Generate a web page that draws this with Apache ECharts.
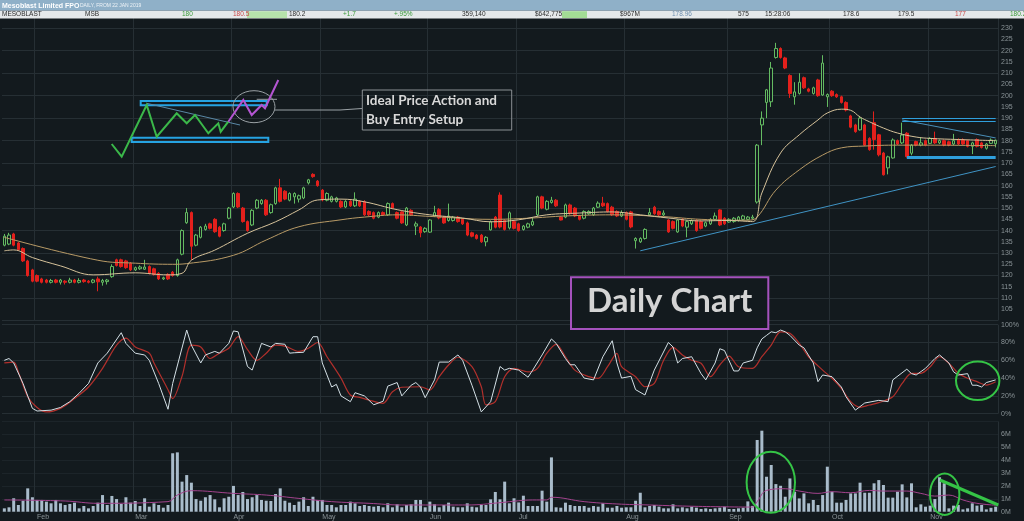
<!DOCTYPE html>
<html><head><meta charset="utf-8">
<script src="https://cdn.jsdelivr.net/npm/echarts@6/dist/echarts.min.js"></script>
<style>html,body{margin:0;padding:0;background:#131a1e;}#c{width:1024px;height:521px;}</style>
</head><body><div id="c"></div>
<script>
// ---------- data ----------
const N = 213;
const monthStartIdx = [7,28,49,68,91,110,133,155,177,198];
const monthNames = ['Feb','Mar','Apr','May','Jun','Jul','Aug','Sep','Oct','Nov'];

const openP = [
133.5,134,138.5,134.5,132,126.5,122.5,120,118.5,118,
117,118,117,117.5,117,118,117,118,117.5,117,
118.5,117,117.3,119.5,127,127,126.5,125.5,122.5,123,
122.8,124,123,121,118.5,120.5,121.5,120,129.5,143.5,
148,133.5,137,140.5,143,145,141.5,140,145.5,150.5,
156.5,150,144,142.5,150,152,153.5,148,152,159,
157.5,153.5,155,154,154.5,161.2,165,162,158,153.5,
153,153,153,150.5,153,151,153,152.8,148.5,148,
146,148,147,152,148,148.3,142.5,149,142,141.6,
139.5,139.3,146.5,149.3,146,144.5,144.5,146,145,143.4,
139,138,138,135,140.3,146,155.8,144.5,141.2,144,
143,140.5,141.5,142.5,147,155,149.5,152.5,153.5,146,
146,151.4,150,146.5,145.5,147.5,147,150.4,152.2,152,
150.4,148.5,146.5,148,148.3,135.5,135,136.5,147,150.4,
148.5,147,144.7,144,139.4,145,141.5,143,144.5,144,
142,143,145,149.2,145.5,143.8,144,144.5,145,145,
145.5,152.7,187,197,197.3,217,221,216.8,209,199.5,
201,208,203,201,207,200.3,199.5,202,200.5,199.5,
197,191,187,184.8,187,181,188,182.6,174.5,167.9,
172.3,180,179,183.3,174.4,179.6,178,180,178.8,181,
179,180,179.5,178.5,180.5,180.5,180,177.5,180.5,179,
176.6,178.8,178.6];
const closeP = [
137.5,138,133.5,131.5,126.5,120,117.5,117.5,117,117,
117.8,117,118,117,118,117,117.8,117.3,117,118,
117.2,117.8,118,124,124.5,124,123.5,122.5,123.5,123.8,
123.8,121,120.5,118.5,119,118.5,120,127,140,148,
133,138,141.5,142,141,139.5,137.5,143,150,156.5,
150.5,144,140,149,153.5,153.5,147,151.5,159,153,
154,156.5,156.5,155.5,159,162.6,164,160,153.6,156.5,
155,154.5,150.5,153,151,154,151,147,147,145.5,
148,147,152,150,145.5,143.4,150,147,143,139,
141,144.7,148,145.6,143.4,146.5,146,144,143,138,
137.5,136.5,135,137,143.9,141.5,141.6,140.5,147.9,141,
140,142,143,144,155,150,153,153.5,151,144.7,
151.4,147.5,146.5,145,148.5,148.5,150,152.2,151,148.5,
147,146.5,148,145,141.6,136.5,136.5,140.5,148,147.5,
147,147.8,139.4,141,144.7,142,144,144.5,140,141,
143.5,145,146.5,142.5,143,145,145.5,146,146.5,146,
146,178,190,202.6,212.3,221,217,212.3,201,201.7,
206,203.5,202,203.5,200,214.5,200.5,200,199.5,197,
193.6,186,184,190,178,176,180.5,173.7,164.8,172.8,
180.3,178.5,182.5,172.9,178,178,179,178,181,179,
180,178,178,180,178.5,178.5,177.5,179,177.5,177,
178.5,180.3,180.2];
const lowP = [
133,133.5,133,131,126,119.5,117,117,116.5,116.5,
116.5,116.5,116,116,116.5,116.5,116.5,116.8,116.5,116.5,
113,115.5,116,119,124,123.5,123,122,122,122.5,
122.5,120.5,120,118,118,118,119.5,119.5,129,143,
127,133,136.5,140,140.5,139,137,139.5,145,150,
150,143.5,139.5,142,149.5,151.5,146.5,147.5,151.5,152.5,
153.5,153,152,152.5,154,160.5,163.5,159.5,153,153,
152.5,152.5,150,150,150.5,150.5,150.5,146.5,146.5,145,
145.5,146.5,146.5,149.5,145,143,142,146.5,138,137,
139,139,146,145,143,144,144,143.5,142.5,137.5,
137,136,134.5,133,140,141,141,140,140.5,140.5,
139.5,140,141,142,146.5,149.5,149,152,150.5,144.5,
145.5,147,146,144.5,145,147,146.5,150,150.5,148,
146.5,146,146,144.5,141,132,134.5,136,146.5,147,
146.5,146.5,139,140.5,139,141.5,137,142.5,139.5,140.5,
141.5,142.5,144.5,142,142.5,143.5,143.5,144,144.5,144.5,
145,152,178,190,195,216.5,216.5,211.8,199,196,
200.5,203,201.5,200.5,199.5,200,195,199.5,199,196.5,
193,185.5,183.5,184.5,177.5,175.5,176,173,164.5,165,
172,178,178.5,172.5,173.5,177.5,177.5,177.5,178.5,178.5,
178.5,177.5,177.5,178,178,178,177,174,177,176.5,
176,178.5,177];
const highP = [
138.5,139,139,135,132.5,127,123,120.5,119,118.5,
118.5,118.5,118.5,118,119,118.5,118.8,118.5,118,118.5,
119.5,118.5,118.5,125,127.5,127.5,127,126,124,124.5,
127,124.5,123.5,121.5,119.5,121,122,127.5,140.5,150,
148.5,138.5,142,143,143.5,145.5,142,143.5,150.5,157,
157,150.5,144.5,149.5,154,154,154,152,159.5,163,
158,157,157,156,159.5,163,165.5,162.5,158.5,157,
155.5,155,153.5,153.5,153.5,157,153.5,153.5,149,148.5,
148.5,148.5,152.5,152.5,148.5,148.8,150.5,149.5,144,142,
141.5,145,151,150,146.5,152,146.5,146.5,145.5,144,
139.5,138.5,138.5,137.5,144.5,146.5,157,145,148.5,144.5,
143.5,142.5,143.5,146,155.5,155.5,153.5,155,154,146.5,
152,152,150.5,147,149,149,150.5,153,155,152.5,
151,149,149,148.5,148.8,137,137,141,150,151,
149,149,145,144.5,145,145.5,144.5,145,145,144.5,
144,145.5,148,149.5,146,145.5,146,146.5,147,146.5,
147,178.5,193,203,215,223.5,221.5,217.3,209.5,206,
210,208.5,203.5,204,207.5,218,201,202.5,201,200,
197.5,191.5,187.5,191,187.5,181.5,193,183,175,173.3,
181,180.5,188,183.8,178.5,180,181.5,180.5,181.5,184,
180.5,180.5,180,183,181,181,180.5,179.5,181,179.5,
179,181,180.5];

const volumeM = [
0.26,0.34,1.04,0.52,0.85,1.81,1.12,0.91,0.91,0.78,
0.65,0.91,0.65,0.52,0.6,0.7,0.26,0.44,0.26,0.44,
0.7,1.29,0.52,1.22,0.98,0.6,1.12,0.7,0.83,0.44,
1.04,0.39,0.65,0.52,0.31,0.52,4.53,4.6,2.33,2.84,
2.25,0.98,0.85,1.12,1.29,0.96,0.34,1.04,1.16,2.0,
1.29,1.53,0.98,1.12,1.29,0.91,0.85,0.83,1.37,1.81,
0.85,0.7,0.52,0.78,1.12,0.44,1.16,0.91,0.91,0.52,
0.52,0.34,0.52,0.52,0.78,0.65,0.44,0.52,0.44,0.39,
0.44,0.34,0.65,0.34,0.57,0.34,0.52,0.57,0.91,0.91,
0.34,0.78,0.57,0.34,0.52,0.7,0.39,0.34,0.34,0.65,
0.39,0.34,0.52,0.52,0.96,1.53,0.96,2.33,0.65,1.04,
0.72,1.24,0.44,0.44,0.44,1.63,0.78,4.21,0.34,0.31,
0.7,0.52,0.44,0.44,0.44,0.31,0.44,0.39,0.65,0.31,
0.31,0.44,0.31,0.34,0.34,0.85,1.47,0.34,0.44,0.52,
0.39,0.26,0.26,0.57,0.26,0.34,0.26,0.39,0.31,0.21,
0.26,0.21,0.26,0.31,0.39,0.21,0.21,0.26,0.31,0.8,
0.45,5.56,6.28,2.71,3.62,2.14,2.01,1.16,2.58,1.55,
1.03,1.42,0.65,0.91,0.52,1.29,3.49,1.55,0.7,0.7,
0.91,1.42,1.42,2.25,1.47,1.47,2.2,2.45,2.07,1.09,
1.09,1.55,2.12,1.11,2.2,0.34,0.57,0.39,0.47,0.98,
2.67,2.2,0.26,0.47,0.52,0.18,0.26,0.65,0.47,0.52,
0.18,0.3,0.39];

// moving averages: [bar index, value]
const maFast = [[0,131],[2,131.4],[6,128],[12,124.3],[19,120.3],[28,121.2],[35,120.3],[38,121],[40,126.8],[45,131.3],[52,138.8],[58,143.9],[63,149.2],[67,153.6],[72,154],[77,152.8],[84,149.3],[91,147],[98,145.6],[104,143.9],[110,144.8],[116,147],[123,147.8],[130,148.3],[136,147],[142,145.6],[149,144.3],[155,144.5],[160,144],[162,156.7],[166,174.5],[170,182.6],[174,189.2],[176,192.3],[179,194],[181,193.5],[183,190.5],[185,188.4],[188,185.6],[191,183.4],[195,181.6],[198,181],[204,180.5],[212,180]];
const maSlow = [[0,137],[20,126.8],[28,125.5],[36,125],[39,125.3],[49,129],[56,135.8],[63,141.7],[72,144.8],[77,146],[84,147],[91,146.3],[104,145],[112,145.5],[120,146.5],[130,147],[141,146.2],[149,145],[159,144.6],[161,146],[165,158],[170,167],[175,173.6],[179,176.8],[184,177.6],[191,178],[198,178],[205,177.9],[212,177.8]];
const volMA = [[0,0.91],[13,0.83],[20,0.65],[35,0.78],[37,1.29],[40,1.63],[49,1.42],[56,1.29],[63,1.03],[70,0.78],[78,0.65],[85,0.52],[92,0.52],[99,0.52],[106,0.7],[110,0.85],[113,0.91],[116,0.91],[117,1.12],[124,0.78],[131,0.6],[138,0.52],[145,0.44],[152,0.39],[160,0.36],[161,0.78],[163,1.65],[167,1.78],[170,1.6],[174,1.42],[177,1.55],[181,1.47],[185,1.65],[188,1.6],[193,1.6],[196,1.42],[199,1.21],[202,1.29],[205,0.91],[208,0.65],[212,0.5]];

// stochastic %K and %D: [bar index, percent]
const stochK = [[0,60],[1,62],[2,57],[4,34],[6,6],[7,3],[10,4],[12,7],[14,13.5],[16,23],[18,34],[20,57],[22,68],[25,91],[26,79],[28,68],[30,66],[31,60],[33,34],[35,5],[36,34],[39,94],[40,77],[42,57],[43,66],[45,70],[46,68],[48,79],[49,93],[50,92],[52,53],[53,49],[55,79],[57,75],[58,79],[60,78],[61,68],[62,68.5],[64,69],[66,86.5],[67,86.5],[68,57],[70,30],[71,33],[72,20],[74,13.5],[75,23.6],[77,20],[79,10],[81,14],[82,31],[84,35],[85,20],[87,32],[88,35],[89,30],[90,18],[92,38],[93,58],[95,58],[97,66],[98,60],[100,32],[102,2],[104,13.5],[106,53],[107,49],[108,51],[110,49],[112,41],[113,49],[115,66],[117,84],[118,79],[120,62],[121,55],[122,55],[124,40],[126,38],[128,64],[130,82],[131,57],[132,40],[134,42],[135,27],[137,21],[139,49],[142,80],[143,75],[144,57],[145,62],[147,64],[149,45],[150,38],[152,57],[153,73],[154,71],[156,48],[157,48],[158,57],[160,60],[161,74],[162,84],[163,88],[164,92],[165,91],[166,94],[167,92],[168,88],[170,77],[171,74],[173,57],[174,36],[175,43.5],[177,41.6],[179,30],[180,19],[182,4],[184,12],[187,15],[189,13.5],[190,38],[193,50],[194,45],[195,43.5],[197,51],[199,62],[200,66],[202,57],[203,47],[204,43.5],[206,45],[207,32],[208,32],[209,30],[210,35],[212,38]];
const stochD = [[0,57],[2,58],[3,47],[5,19],[7,7],[9,2],[12,6],[15,17],[18,30],[21,51],[24,77],[26,85],[28,75],[31,68],[32,57],[35,27],[36,17],[38,42],[40,77],[42,75],[44,62],[46,68],[48,73.5],[50,86.5],[52,72],[54,60],[56,68],[58,77],[60,76],[63,70],[65,73.5],[67,80],[69,64],[72,40],[74,21],[76,18.4],[78,15.4],[81,11.7],[83,24.7],[85,29.7],[89,30.3],[91,26.6],[93,41.6],[95,54.7],[97,63.4],[100,52.8],[102,30.3],[103,10],[105,13.5],[107,41.6],[109,51],[112,47],[114,51],[116,68],[118,78],[120,64],[122,49],[125,41.6],[127,39.8],[129,52.8],[131,67.8],[132,52.8],[135,41.6],[137,30.3],[139,34],[141,60],[143,74.6],[145,66],[147,60],[149,56.6],[151,41.6],[153,54.7],[155,64.8],[157,52.8],[160,51],[162,64],[164,77],[166,92],[168,90.3],[170,79],[172,64],[175,49],[177,39.8],[179,28.5],[181,13.5],[183,7.2],[185,9.8],[187,12.4],[190,19.1],[192,34],[194,45.4],[196,45.4],[198,52.8],[200,64],[202,56.6],[204,45.4],[206,39.8],[208,36],[210,32.2],[212,36]];

// drawn trend lines on the price pane: [bar index, price]
const supportLine = [[136,131],[212,168.5]];
const wedgeTopLine = [[192,189.2],[212,181.2]];
const rangeTopA = [[192,189.8],[212,189.8]];
const rangeTopB = [[192,188.6],[212,188.6]];
const rangeBottom = [[193,172.7],[212,172.7]];

// ---------- chart ----------
const BG = '#131a1e', GRID = '#262f34', LBL = '#8a9397';
const FONT = 'Liberation Sans, Arial, sans-serif';
const cats = Array.from({length: N}, (_, i) => String(i));
const isMonth = (idx) => monthStartIdx.indexOf(idx) >= 0;
const candles = openP.map((o, i) => [o, closeP[i], lowP[i], highP[i]]);

function seg(pair, style) {
  return [{coord: [String(pair[0][0]), pair[0][1]], lineStyle: style}, {coord: [String(pair[1][0]), pair[1][1]]}];
}

const chart = echarts.init(document.getElementById('c'), null, {renderer: 'canvas'});
const grids = [
  {left: 2, right: 26, top: 17, height: 303.5},
  {left: 2, right: 26, top: 324.7, height: 89},
  {left: 2, right: 26, top: 421.4, height: 90.3}
];
const xAxes = [0, 1, 2].map(g => ({
  type: 'category', gridIndex: g, data: cats, boundaryGap: true,
  axisLine: {show: false}, axisTick: {show: false},
  axisLabel: g === 2 ? {show: true, interval: (idx) => isMonth(idx), formatter: (v, idx) => monthNames[monthStartIdx.indexOf(idx)] || '',
    color: LBL, fontSize: 7, margin: 2, align: 'left', fontFamily: FONT} : {show: false},
  splitLine: {show: true, interval: (idx) => isMonth(idx), lineStyle: {color: GRID, width: 1}}
}));
const axLbl = {color: LBL, fontSize: 7, margin: 3, fontFamily: FONT};
const yAxes = [
  {type: 'value', gridIndex: 0, position: 'right', min: 100, max: 235, interval: 5, scale: true,
   axisLine: {show: false}, axisTick: {show: false}, splitLine: {show: false},
   axisLabel: Object.assign({showMinLabel: false, showMaxLabel: false}, axLbl)},
  {type: 'value', gridIndex: 0, position: 'right', min: 100, max: 235, interval: 10,
   axisLine: {show: false}, axisTick: {show: false}, axisLabel: {show: false},
   splitLine: {show: true, lineStyle: {color: GRID}}},
  {type: 'value', gridIndex: 1, position: 'right', min: 0, max: 100, interval: 20,
   axisLine: {show: false}, axisTick: {show: false},
   axisLabel: Object.assign({formatter: '{value}%'}, axLbl),
   splitLine: {show: true, lineStyle: {color: GRID}}},
  {type: 'value', gridIndex: 2, position: 'right', min: 0, max: 7, interval: 1,
   axisLine: {show: false}, axisTick: {show: false},
   axisLabel: Object.assign({formatter: '{value}M', showMaxLabel: false}, axLbl),
   splitLine: {show: true, lineStyle: {color: '#1c2429'}}}
];

const blueThin = {color: '#3f93c4', width: 1, type: 'solid'};
const series = [
  {type: 'candlestick', xAxisIndex: 0, yAxisIndex: 0, data: candles, barWidth: 3,
   itemStyle: {color: BG, color0: '#e3201c', borderColor: '#64bb62', borderColor0: '#e3201c', borderWidth: 1},
   markLine: {symbol: 'none', silent: true, label: {show: false}, animation: false,
     data: [seg(supportLine, blueThin), seg(wedgeTopLine, {color: '#4a8fb8', width: 1, type: 'solid'}),
            seg(rangeTopA, {color: '#2f9fdc', width: 1.2, type: 'solid'}), seg(rangeTopB, {color: '#2f9fdc', width: 1.2, type: 'solid'}),
            seg(rangeBottom, {color: '#2f9fdc', width: 3, type: 'solid'})]}},
  {type: 'line', xAxisIndex: 0, yAxisIndex: 0, data: maSlow, smooth: 0.4, showSymbol: false, lineStyle: {color: '#b89a66', width: 1}},
  {type: 'line', xAxisIndex: 0, yAxisIndex: 0, data: maFast, smooth: 0.4, showSymbol: false, lineStyle: {color: '#d6c29a', width: 1}},
  {type: 'line', xAxisIndex: 1, yAxisIndex: 2, data: stochD, smooth: 0.3, showSymbol: false, lineStyle: {color: '#b2302c', width: 1.2}},
  {type: 'line', xAxisIndex: 1, yAxisIndex: 2, data: stochK, showSymbol: false, lineStyle: {color: '#d4e0e6', width: 1}},
  {type: 'bar', xAxisIndex: 2, yAxisIndex: 3, data: volumeM, barWidth: 3, itemStyle: {color: '#a9bccb'}},
  {type: 'line', xAxisIndex: 2, yAxisIndex: 3, data: volMA, smooth: 0.4, showSymbol: false, lineStyle: {color: '#a3438d', width: 1}}
];

// header row texts
const hdrCells = [
  ['MESOBLAST', 2, '#2b2b2b'], ['MSB', 85, '#2b2b2b'], ['180', 182, '#3a9a3a'], ['180.5', 233, '#c84848'],
  ['180.2', 289, '#2b2b2b'], ['+1.7', 343, '#3a9a3a'], ['+.95%', 394, '#3a9a3a'], ['359,140', 462, '#2b2b2b'],
  ['$642,775', 535, '#2b2b2b'], ['$967M', 620, '#2b2b2b'], ['178.96', 672, '#6f8fb0'], ['575', 738, '#2b2b2b'],
  ['15:28:06', 765, '#2b2b2b'], ['178.6', 843, '#2b2b2b'], ['179.5', 898, '#2b2b2b'], ['177', 955, '#c84848'], ['180.2', 1010, '#3a9a3a']
];
const graphics = [
  {type: 'rect', shape: {x: 0, y: 0, width: 1024, height: 10.7}, style: {fill: '#8fb0c8'}, z: 50},
  {type: 'text', x: 2, y: 5.6, style: {text: 'Mesoblast Limited FPO', fill: '#ffffff', font: 'bold 7px ' + FONT, textVerticalAlign: 'middle'}, z: 51},
  {type: 'text', x: 80, y: 6, style: {text: 'DAILY, FROM 22 JAN 2019', fill: '#eef3f7', font: '5px ' + FONT, textVerticalAlign: 'middle'}, z: 51},
  {type: 'rect', shape: {x: 0, y: 10.7, width: 1024, height: 7.8}, style: {fill: '#e5e8ea'}, z: 50},
  {type: 'rect', shape: {x: 247, y: 11.2, width: 40, height: 6.8}, style: {fill: '#b6e2ab'}, z: 51},
  {type: 'rect', shape: {x: 562, y: 11.2, width: 25, height: 6.8}, style: {fill: '#a3dc95'}, z: 51}
];
hdrCells.forEach(c => graphics.push({type: 'text', x: c[1], y: 14.7, style: {text: c[0], fill: c[2], font: '6.5px ' + FONT, textVerticalAlign: 'middle'}, z: 52}));

const GREEN = '#35c446', ANN = '#9aa1a5';
graphics.push(
  // idealised setup sketch
  {type: 'rect', shape: {x: 140.7, y: 101, width: 126, height: 4.3}, style: {fill: 'none', stroke: '#26a3e2', lineWidth: 2}, z: 60},
  {type: 'rect', shape: {x: 131.7, y: 137.7, width: 136.6, height: 4.3}, style: {fill: 'none', stroke: '#26a3e2', lineWidth: 2}, z: 60},
  {type: 'line', shape: {x1: 146.7, y1: 103.3, x2: 240, y2: 125}, style: {stroke: '#5a88a6', lineWidth: 1}, z: 60},
  {type: 'polyline', shape: {points: [[111.7,144],[121.7,156.7],[146.7,105],[156.7,136.7],[176.7,113.3],[186.7,123.3],[195,115],[208.3,133.3],[218.3,123.3],[220.7,131.7],[228.3,121.7]]}, style: {stroke: '#3bb84a', lineWidth: 2, fill: 'none'}, z: 61},
  {type: 'polyline', shape: {points: [[228.3,121.7],[243.3,100],[251.7,115],[261.7,105],[265,108.3],[278.3,80]]}, style: {stroke: '#b455d2', lineWidth: 2, fill: 'none'}, z: 61},
  {type: 'line', shape: {x1: 256.7, y1: 99.3, x2: 277, y2: 99.3}, style: {stroke: ANN, lineWidth: 1}, z: 60},
  {type: 'ellipse', shape: {cx: 254, cy: 106.7, rx: 21, ry: 16}, style: {fill: 'none', stroke: ANN, lineWidth: 1}, z: 60},
  {type: 'polyline', shape: {points: [[275,110],[340,110],[362,108.5]]}, style: {stroke: ANN, lineWidth: 1, fill: 'none'}, z: 60},
  {type: 'rect', shape: {x: 362.3, y: 90, width: 149.4, height: 40}, style: {fill: 'none', stroke: '#8c9194', lineWidth: 1}, z: 60},
  {type: 'text', x: 366, y: 100.5, style: {text: 'Ideal Price Action and', fill: '#d8d8d8', font: 'bold 13.5px Lato, sans-serif', textVerticalAlign: 'middle'}, z: 61},
  {type: 'text', x: 366, y: 119.5, style: {text: 'Buy Entry Setup', fill: '#d8d8d8', font: 'bold 13.5px Lato, sans-serif', textVerticalAlign: 'middle'}, z: 61},
  // Daily Chart label
  {type: 'rect', shape: {x: 571, y: 277.3, width: 197.3, height: 51.7}, style: {fill: BG, stroke: '#a552bd', lineWidth: 2}, z: 60},
  {type: 'text', x: 669.7, y: 301, style: {text: 'Daily Chart', fill: '#d4d4d4', font: 'bold 33px Lato, sans-serif', textAlign: 'center', textVerticalAlign: 'middle'}, z: 61},
  // green highlight circles
  {type: 'ellipse', shape: {cx: 977.7, cy: 380.8, rx: 21.7, ry: 19.2}, style: {fill: 'none', stroke: GREEN, lineWidth: 2}, z: 62},
  {type: 'ellipse', shape: {cx: 770.8, cy: 482.2, rx: 24.2, ry: 30.5}, style: {fill: 'none', stroke: GREEN, lineWidth: 2}, z: 62},
  {type: 'ellipse', shape: {cx: 944.7, cy: 494.2, rx: 14.7, ry: 20.8}, style: {fill: 'none', stroke: GREEN, lineWidth: 2}, z: 62},
  {type: 'line', shape: {x1: 940, y1: 480, x2: 998.3, y2: 505}, style: {stroke: GREEN, lineWidth: 3}, z: 62}
);

chart.setOption({
  backgroundColor: BG,
  animation: false,
  textStyle: {fontFamily: FONT},
  grid: grids, xAxis: xAxes, yAxis: yAxes, series: series, graphic: graphics
});
</script></body></html>
